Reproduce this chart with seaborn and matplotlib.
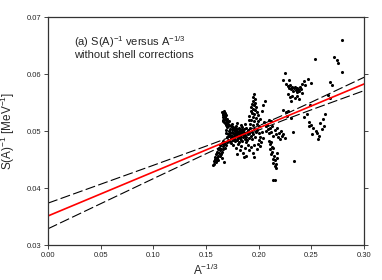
import numpy as np
import pandas as pd
import matplotlib.pyplot as plt
import seaborn as sns

# values (x = A^-1/3, y = S(A)^-1 in MeV^-1)
blob_upper_left = [(0.1655,0.0534),(0.1662,0.0530),(0.1668,0.0536),(0.1672,0.0527),(0.1680,0.0532),
    (0.1658,0.0524),(0.1665,0.0520),(0.1676,0.0522),(0.1684,0.0525),(0.1690,0.0519),(0.1670,0.0516),
    (0.1678,0.0514),(0.1686,0.0512),(0.1695,0.0515),(0.1702,0.0518),(0.1660,0.0528),(0.1674,0.0531),
    (0.1688,0.0529),(0.1698,0.0522),(0.1708,0.0513),(0.1715,0.0517),(0.1722,0.0511),(0.1663,0.0517),
    (0.1693,0.0510),(0.1712,0.0509)]

spike = [(0.1955,0.0565),(0.1950,0.0559),(0.1962,0.0556),(0.1945,0.0553),(0.1966,0.0549),
    (0.1940,0.0547),(0.1955,0.0545),(0.1930,0.0542),(0.1975,0.0543),(0.1948,0.0538),
    (0.1925,0.0536),(0.1968,0.0537),(0.1982,0.0534),(0.1935,0.0531),(0.1958,0.0530),
    (0.1990,0.0528),(0.1912,0.0527),(0.1945,0.0524),(0.1972,0.0523),(0.1904,0.0520),
    (0.1928,0.0519),(0.1960,0.0517),(0.1995,0.0518),(0.2012,0.0521),(0.1918,0.0513),
    (0.1948,0.0511),(0.1980,0.0512),(0.2005,0.0509),(0.2060,0.0552),(0.2045,0.0545),
    (0.2030,0.0535)]

main_blob = [(0.1685,0.0496),(0.1692,0.0502),(0.1698,0.0489),(0.1703,0.0507),(0.1708,0.0495),(0.1712,0.0485),
    (0.1716,0.0500),(0.1720,0.0491),(0.1724,0.0504),(0.1728,0.0483),(0.1731,0.0496),(0.1735,0.0509),
    (0.1738,0.0488),(0.1742,0.0499),(0.1745,0.0492),(0.1748,0.0503),(0.1752,0.0485),(0.1755,0.0497),
    (0.1758,0.0507),(0.1761,0.0490),(0.1764,0.0501),(0.1767,0.0494),(0.1770,0.0486),(0.1773,0.0505),
    (0.1776,0.0497),(0.1779,0.0489),(0.1782,0.0500),(0.1785,0.0493),(0.1788,0.0508),(0.1791,0.0484),
    (0.1794,0.0496),(0.1797,0.0503),(0.1800,0.0490),(0.1803,0.0499),(0.1806,0.0487),(0.1809,0.0506),
    (0.1812,0.0494),(0.1815,0.0500),(0.1818,0.0488),(0.1821,0.0497),(0.1824,0.0504),(0.1827,0.0491),
    (0.1830,0.0499),(0.1834,0.0485),(0.1838,0.0502),(0.1842,0.0494),(0.1846,0.0507),(0.1850,0.0489),
    (0.1854,0.0498),(0.1858,0.0492),(0.1862,0.0503),(0.1866,0.0486),(0.1870,0.0497),(0.1875,0.0505),
    (0.1880,0.0490),(0.1885,0.0499),(0.1890,0.0484),(0.1895,0.0494),(0.1900,0.0502),(0.1906,0.0488),
    (0.1912,0.0496),(0.1918,0.0505),(0.1925,0.0491),(0.1932,0.0499),(0.1940,0.0486),(0.1948,0.0495),
    (0.1955,0.0503),(0.1963,0.0490),(0.1970,0.0498),(0.1700,0.0481),(0.1740,0.0479),(0.1775,0.0482),
    (0.1810,0.0480),(0.1845,0.0482),(0.1880,0.0480),(0.1750,0.0512),(0.1790,0.0514),(0.1830,0.0511),
    (0.1870,0.0513),(0.1725,0.0493),(0.1760,0.0496),(0.1795,0.0491),(0.1835,0.0496),(0.1865,0.0493),
    (0.1905,0.0497)]

tail_lower_left = [(0.1568,0.0441),(0.1574,0.0447),(0.1580,0.0443),(0.1583,0.0451),(0.1592,0.0446),
    (0.1589,0.0455),(0.1600,0.0449),(0.1597,0.0459),(0.1607,0.0453),(0.1604,0.0464),(0.1615,0.0457),
    (0.1612,0.0468),(0.1621,0.0461),(0.1628,0.0456),(0.1625,0.0471),(0.1633,0.0466),(0.1640,0.0460),
    (0.1637,0.0475),(0.1645,0.0469),(0.1652,0.0464),(0.1649,0.0479),(0.1657,0.0473),(0.1664,0.0468),
    (0.1661,0.0483),(0.1669,0.0477),(0.1676,0.0471),(0.1681,0.0480),(0.1688,0.0475),(0.1672,0.0446),
    (0.1655,0.0452),(0.1618,0.0449)]

below_blob = [(0.1760,0.0475),(0.1785,0.0470),(0.1800,0.0477),(0.1820,0.0466),(0.1835,0.0473),(0.1850,0.0462),
    (0.1870,0.0470),(0.1880,0.0457),(0.1895,0.0476),(0.1910,0.0466),(0.1925,0.0472),(0.1945,0.0461),
    (0.1960,0.0476),(0.1980,0.0468),(0.1995,0.0478),(0.1865,0.0455),(0.1790,0.0460),(0.1955,0.0455),
    (0.1985,0.0502),(0.2000,0.0496),(0.2015,0.0490),(0.2005,0.0484),(0.2025,0.0480),(0.2012,0.0473),
    (0.2030,0.0499),(0.2040,0.0488)]

right_strands = [(0.2050,0.0515),(0.2065,0.0508),(0.2080,0.0511),(0.2070,0.0500),(0.2090,0.0503),
    (0.2100,0.0496),(0.2110,0.0505),(0.2120,0.0498),(0.2130,0.0509),(0.2140,0.0492),(0.2150,0.0501),
    (0.2160,0.0494),(0.2170,0.0506),(0.2180,0.0489),(0.2190,0.0497),(0.2200,0.0486),(0.2210,0.0500),
    (0.2220,0.0491),(0.2235,0.0495),(0.2245,0.0488),(0.2095,0.0520),(0.2120,0.0517),
    (0.2095,0.0482),(0.2105,0.0477),(0.2115,0.0480),(0.2125,0.0472),(0.2110,0.0468),(0.2130,0.0464),
    (0.2140,0.0470),(0.2120,0.0459),(0.2145,0.0456),(0.2135,0.0451),(0.2155,0.0449),(0.2140,0.0444),
    (0.2160,0.0442),(0.2150,0.0438),(0.2165,0.0436),(0.2170,0.0452),(0.2175,0.0461),(0.2135,0.0414),
    (0.2150,0.0414),(0.2336,0.0447)]

upper_right = [(0.2250,0.0602),(0.2230,0.0589),(0.2260,0.0583),(0.2275,0.0579),(0.2290,0.0576),
    (0.2300,0.0581),(0.2310,0.0573),(0.2320,0.0577),(0.2330,0.0570),(0.2335,0.0575),(0.2345,0.0578),
    (0.2350,0.0572),(0.2360,0.0569),(0.2365,0.0576),(0.2375,0.0573),(0.2385,0.0570),(0.2395,0.0578),
    (0.2405,0.0574),(0.2415,0.0567),(0.2280,0.0565),(0.2300,0.0560),(0.2320,0.0562),(0.2340,0.0558),
    (0.2310,0.0553),(0.2360,0.0561),(0.2380,0.0556),(0.2410,0.0583),(0.2430,0.0587),(0.2440,0.0580),
    (0.2470,0.0591),(0.2500,0.0584),(0.2530,0.0626),(0.2290,0.0590),
    (0.2230,0.0537),(0.2255,0.0534),(0.2280,0.0536),(0.2330,0.0498),(0.2270,0.0527),(0.2310,0.0523)]

lower_right = [(0.2430,0.0524),(0.2460,0.0530),(0.2480,0.0516),(0.2500,0.0510),(0.2520,0.0505),
    (0.2540,0.0500),(0.2555,0.0497),(0.2570,0.0492),(0.2560,0.0486),(0.2585,0.0514),(0.2600,0.0503),
    (0.2615,0.0522),(0.2630,0.0530),(0.2510,0.0495),(0.2475,0.0508),(0.2490,0.0546),(0.2680,0.0558),
    (0.2620,0.0508)]

far_right = [(0.2790,0.0660),(0.2715,0.0630),(0.2740,0.0624),(0.2752,0.0619),(0.2790,0.0604),
    (0.2680,0.0586),(0.2700,0.0581),(0.2660,0.0563)]

# fitted line and its dashed confidence band
fit_x = [0.0, 0.30]
fit_y = [0.0351, 0.05826]
band_x = [0.0, 0.05, 0.10, 0.15, 0.175, 0.20, 0.225, 0.25, 0.30]
band_upper = [0.03735, 0.04067, 0.04399, 0.04735, 0.04908, 0.05091, 0.05294, 0.05507, 0.05943]
band_lower = [0.03285, 0.03725, 0.04165, 0.04601, 0.04814, 0.05017, 0.05200, 0.05373, 0.05709]

x_ticks = [0.00, 0.05, 0.10, 0.15, 0.20, 0.25, 0.30]
y_ticks = [0.03, 0.04, 0.05, 0.06, 0.07]

points = (blob_upper_left + spike + main_blob + tail_lower_left + below_blob +
          right_strands + upper_right + lower_right + far_right)
df = pd.DataFrame(points, columns=['x', 'y'])

sns.set_style('ticks')
plt.rcParams['font.family'] = ['Liberation Sans', 'DejaVu Sans']
plt.rcParams['mathtext.fontset'] = 'custom'
plt.rcParams['mathtext.rm'] = 'Liberation Sans'
plt.rcParams['mathtext.it'] = 'Liberation Sans'
plt.rcParams['mathtext.default'] = 'regular'

fig = plt.figure(figsize=(3.82, 2.80), dpi=100)
ax = fig.add_axes([0.1257, 0.125, 0.8273, 0.814])

sns.lineplot(x=band_x, y=band_upper, ax=ax, color='black', lw=0.8)
sns.lineplot(x=band_x, y=band_lower, ax=ax, color='black', lw=0.8)
for ln in ax.lines:
    ln.set_dashes((9, 3))
sns.lineplot(x=fit_x, y=fit_y, ax=ax, color='red', lw=1.2)
sns.scatterplot(data=df, x='x', y='y', ax=ax, color='black', s=5, linewidth=0, marker='o')

ax.set_xlim(0, 0.30)
ax.set_ylim(0.03, 0.07)
ax.set_xticks(x_ticks)
ax.set_yticks(y_ticks)
ax.set_xticklabels([f'{v:.2f}' for v in x_ticks])
ax.set_yticklabels([f'{v:.2f}' for v in y_ticks])
ax.tick_params(axis='both', labelsize=5.5, length=3, width=0.6, direction='out', pad=2)
ax.tick_params(axis='y', right=True)
for s in ax.spines.values():
    s.set_linewidth(0.9)
    s.set_color('#333333')

ax.set_xlabel('A$^{-1/3}$', fontsize=8.5, labelpad=3)
ax.set_ylabel('S(A)$^{-1}$ [MeV$^{-1}$]', fontsize=8.5, labelpad=7)

ax.text(0.025, 0.065, '(a) S(A)$^{-1}$ versus A$^{-1/3}$', fontsize=8, va='baseline')
ax.text(0.025, 0.0628, 'without shell corrections', fontsize=8, va='baseline')

fig.savefig('out.png', dpi=100)
